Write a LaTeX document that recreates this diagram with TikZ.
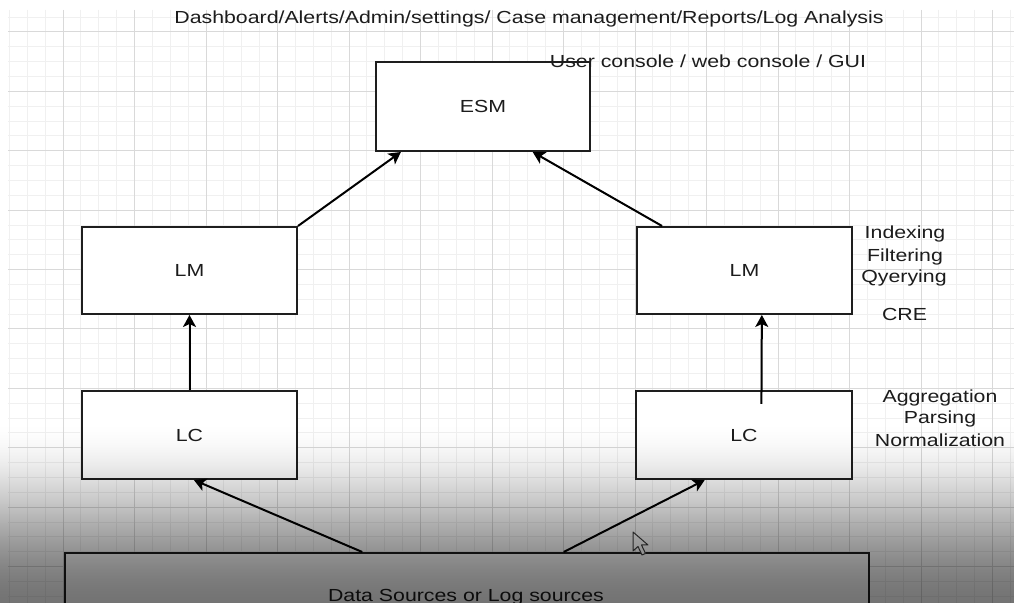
\documentclass[tikz,border=0pt]{standalone}
\usepackage{fontspec}
\setmainfont{Liberation Sans}
\usepackage{graphicx}
\usetikzlibrary{arrows.meta,calc}
\definecolor{textgray}{HTML}{1C1C1C}
\definecolor{minorgrid}{HTML}{F0F0F0}
\definecolor{majorgrid}{HTML}{D9D9D9}
\definecolor{edgegray}{HTML}{1E1E1E}
\newcommand\sq[1]{\scalebox{1}[0.82]{#1}}
\newcommand\labfont{\fontsize{10.65pt}{12pt}\selectfont}
\begin{document}
\begin{tikzpicture}[x=0.5pt,y=-0.5pt,
  box/.style={draw=edgegray, line width=1pt, fill=white, inner sep=0pt, text=textgray, font=\labfont},
  txt/.style={text=textgray, inner sep=0pt, font=\labfont},
  conn/.style={draw=black, line width=1pt, -{Stealth[length=6pt,width=6.5pt,inset=1.5pt]}},
  minorline/.style={draw=minorgrid, line width=0.5pt},
  majorline/.style={draw=majorgrid, line width=0.5pt}]
\useasboundingbox (0,0) rectangle (1014,603);
\clip (0,0) rectangle (1014,603);
\fill[white] (0,0) rectangle (1014,603);
% grid
\foreach \k in {1,...,57}{
  \pgfmathsetmacro\gx{63+17.875*(\k-4)}
  \pgfmathtruncatemacro\m{mod(\k,4)}
  \ifnum\m=0\relax\else\draw[minorline] (\gx,10) -- (\gx,603);\fi
}
\foreach \k in {3,...,42}{
  \pgfmathsetmacro\gy{32+14.85*(\k-4)}
  \pgfmathtruncatemacro\m{mod(\k,4)}
  \ifnum\m=0\relax\else\draw[minorline] (8,\gy) -- (1014,\gy);\fi
}
\foreach \k in {4,8,...,56}{
  \pgfmathsetmacro\gx{63+17.875*(\k-4)}
  \draw[majorline] (\gx,10) -- (\gx,603);
}
\foreach \k in {4,8,...,40}{
  \pgfmathsetmacro\gy{32+14.85*(\k-4)}
  \draw[majorline] (8,\gy) -- (1014,\gy);
}
% boxes
\node[box, minimum width=107pt, minimum height=44.5pt] (esm) at (483,106.5) {\sq{ESM}};
\node[box, minimum width=107.5pt, minimum height=43.5pt] (lml) at (189.5,270.5) {\sq{LM}};
\node[box, minimum width=107.5pt, minimum height=43.5pt] (lmr) at (744.5,270.5) {\sq{LM}};
\node[box, minimum width=107.5pt, minimum height=44pt] (lcl) at (189.5,435) {\sq{LC}};
\node[box, minimum width=108pt, minimum height=44pt] (lcr) at (744,435) {\sq{LC}};
\node[box, minimum width=402pt, minimum height=43.5pt] (ds) at (467,596.5) {};
\node[txt, anchor=base] (dstext) at (466,602) {\sq{Data Sources or Log sources}};
% texts
\node[txt, anchor=base] (title) at (529,24) {\sq{Dashboard/Alerts/Admin/settings/ Case management/Reports/Log Analysis}};
\node[txt, anchor=base] (gui) at (708,68) {\sq{User console / web console / GUI}};
\node[txt, anchor=base] (idx) at (905,239) {\sq{Indexing}};
\node[txt, anchor=base] (flt) at (905,262) {\sq{Filtering}};
\node[txt, anchor=base] (qry) at (904,283) {\sq{Qyerying}};
\node[txt, anchor=base] (cre) at (904.5,321) {\sq{CRE}};
\node[txt, anchor=base] (agg) at (940,403) {\sq{Aggregation}};
\node[txt, anchor=base] (prs) at (940,424) {\sq{Parsing}};
\node[txt, anchor=base] (nrm) at (940,447) {\sq{Normalization}};
% connectors
\coordinate (esmL) at ($(esm.south west)!0.12!(esm.south east)$);
\coordinate (esmR) at ($(esm.south west)!0.73!(esm.south east)$);
\coordinate (lmrTop) at ($(lmr.north west)!0.12!(lmr.north east)$);
\coordinate (lmrBot) at ($(lmr.south west)!0.58!(lmr.south east)$);
\coordinate (lcrIn) at ($(lcr.north west)!0.58!(lcr.north east)+(0,14)$);
\coordinate (lclBot) at ($(lcl.south west)!0.52!(lcl.south east)$);
\coordinate (lcrBot) at ($(lcr.south west)!0.32!(lcr.south east)$);
\coordinate (dsA) at ($(ds.north west)!0.37!(ds.north east)$);
\coordinate (dsB) at ($(ds.north west)!0.62!(ds.north east)$);
\draw[conn] (lml.north east) -- (esmL);
\draw[conn] (lmrTop) -- (esmR);
\draw[conn] (lcl.north) -- (lml.south);
\draw[conn] (lcrIn) -- (lmrBot);
\draw[conn] (dsA) -- (lclBot);
\draw[conn] (dsB) -- (lcrBot);
% mouse pointer
\draw[fill=white, draw=black!75, line width=0.5pt, line join=round]
  (633,532) -- (633,551) -- (638,546.5) -- (642,555) -- (645.5,553.5) -- (641.5,545) -- (648,545) -- cycle;
% darkening towards the bottom (smooth ease-in)
\foreach \i in {0,...,182}{
  \pgfmathsetmacro\t{(\i+0.5)/190}
  \pgfmathsetmacro\op{0.55*(3*\t*\t-2*\t*\t*\t)}
  \fill[black, opacity=\op] (0,420+\i) rectangle (1014,421+\i);
}
\end{tikzpicture}
\end{document}
